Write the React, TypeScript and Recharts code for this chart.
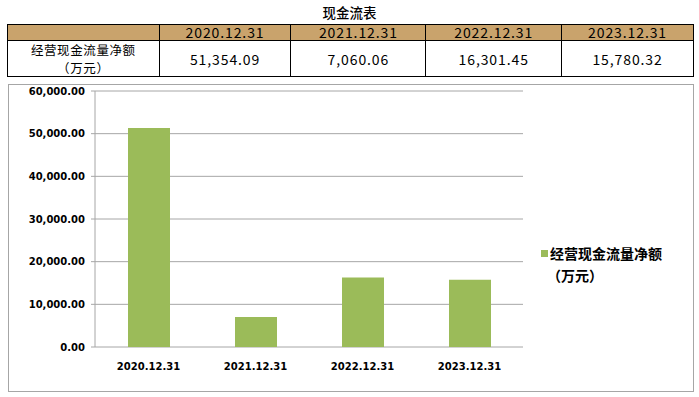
import React from 'react';
import { BarChart, Bar, XAxis, YAxis, CartesianGrid } from 'recharts';

const periods = ['2020.12.31', '2021.12.31', '2022.12.31', '2023.12.31'];
const cashFlow = [51354.09, 7060.06, 16301.45, 15780.32];
const cashFlowText = ['51,354.09', '7,060.06', '16,301.45', '15,780.32'];
const yTicks = [0, 10000, 20000, 30000, 40000, 50000, 60000];
const boundaryTicks = [0, 1, 2, 3, 4];
const seriesName = '经营现金流量净额（万元）';

const data = periods.map((p, i) => ({ period: p, value: cashFlow[i], idx: i + 0.5 }));

const cjk = '"Noto Sans CJK SC", "Noto Sans", sans-serif';
const cell: React.CSSProperties = {
  border: '1px solid #000',
  textAlign: 'center',
  fontSize: 14,
  padding: 0,
  letterSpacing: 0.9,
};

const fmt = (v: number) =>
  v.toLocaleString('en-US', { minimumFractionDigits: 2, maximumFractionDigits: 2 });

export default function App() {
  return (
    <div style={{ position: 'fixed', left: 0, top: 0, width: 699, height: 397, background: '#fff', fontFamily: cjk }}>
      <div
        style={{
          position: 'absolute',
          left: 0,
          top: 3,
          width: 699,
          textAlign: 'center',
          fontSize: 13.5,
          fontWeight: 500,
          lineHeight: '19px',
        }}
      >
        现金流表
      </div>
      <table
        style={{
          position: 'absolute',
          left: 7,
          top: 24,
          width: 687,
          borderCollapse: 'collapse',
          fontFamily: cjk,
        }}
      >
        <colgroup>
          <col style={{ width: 152 }} />
          <col style={{ width: 132 }} />
          <col style={{ width: 135 }} />
          <col style={{ width: 136 }} />
          <col style={{ width: 132 }} />
        </colgroup>
        <tbody>
          <tr style={{ height: 16, background: '#C9A36C' }}>
            <td style={{ ...cell, lineHeight: '15px' }} />
            {periods.map((p) => (
              <td key={p} style={{ ...cell, lineHeight: '15px' }}>{p}</td>
            ))}
          </tr>
          <tr style={{ height: 35 }}>
            <td style={{ ...cell, fontSize: 12.5, lineHeight: '17.5px', letterSpacing: 0.6 }}>
              <div>经营现金流量净额</div>
              <div>（万元）</div>
            </td>
            {cashFlowText.map((t) => (
              <td key={t} style={cell}>{t}</td>
            ))}
          </tr>
        </tbody>
      </table>
      <div
        style={{
          position: 'absolute',
          left: 8,
          top: 84,
          width: 684,
          height: 306,
          border: '1px solid #A6A6A6',
        }}
      >
        <BarChart
          width={684}
          height={306}
          data={data}
          margin={{ top: 6, right: 170, bottom: 14, left: 0 }}
        >
          <CartesianGrid vertical={false} stroke="#A6A6A6" />
          <XAxis
            xAxisId="edges"
            type="number"
            dataKey="idx"
            domain={[0, 4]}
            ticks={boundaryTicks}
            height={0}
            tick={false}
            tickSize={5}
            axisLine={{ stroke: '#A6A6A6' }}
            tickLine={{ stroke: '#A6A6A6' }}
          />
          <XAxis
            dataKey="period"
            height={30}
            axisLine={false}
            tickLine={false}
            tick={{ fill: '#000', fontSize: 10, fontWeight: 'bold', fontFamily: '"DejaVu Sans", sans-serif' }}
            tickMargin={10}
          />
          <YAxis
            width={86}
            domain={[0, 60000]}
            ticks={yTicks}
            tickFormatter={fmt}
            interval={0}
            axisLine={{ stroke: '#A6A6A6' }}
            tickLine={{ stroke: '#A6A6A6' }}
            tickSize={4}
            tick={{ fill: '#000', fontSize: 10, fontWeight: 'bold', fontFamily: '"DejaVu Sans", sans-serif' }}
            tickMargin={6}
          />
          <Bar
            dataKey="value"
            name={seriesName}
            fill="#9BBB59"
            barSize={42}
            isAnimationActive={false}
          />
        </BarChart>
        <div
          style={{
            position: 'absolute',
            left: 532,
            top: 157,
            fontSize: 14,
            fontWeight: 600,
            color: '#000',
            lineHeight: '22px',
          }}
        >
          <div style={{ display: 'flex', alignItems: 'center' }}>
            <span style={{ width: 7, height: 7, background: '#9BBB59', display: 'inline-block', marginRight: 2 }} />
            <span>经营现金流量净额</span>
          </div>
          <div style={{ paddingLeft: 6 }}>（万元）</div>
        </div>
      </div>
    </div>
  );
}
